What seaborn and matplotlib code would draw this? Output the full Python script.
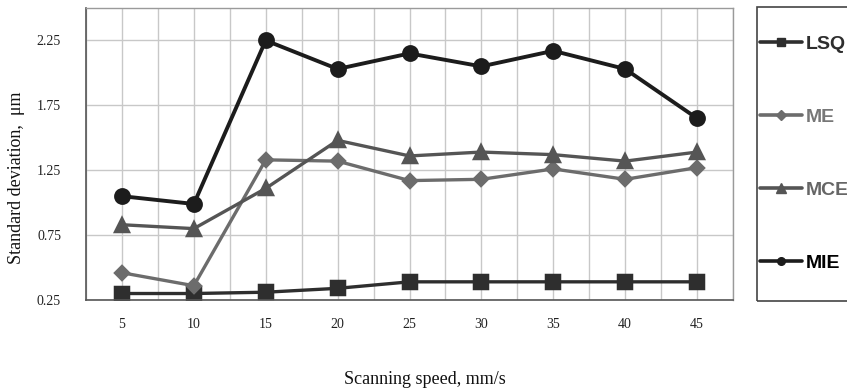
import matplotlib
matplotlib.use("Agg")
import matplotlib.pyplot as plt
import matplotlib.patches as mpatches
from matplotlib.lines import Line2D
from matplotlib.ticker import FixedLocator
import seaborn as sns
import pandas as pd

speeds = ["5", "10", "15", "20", "25", "30", "35", "40", "45"]
lsq = [0.30, 0.30, 0.31, 0.34, 0.39, 0.39, 0.39, 0.39, 0.39]
me = [0.46, 0.36, 1.33, 1.32, 1.17, 1.18, 1.26, 1.18, 1.27]
mce = [0.83, 0.80, 1.11, 1.48, 1.36, 1.39, 1.37, 1.32, 1.39]
mie = [1.05, 0.99, 2.25, 2.03, 2.15, 2.05, 2.17, 2.03, 1.65]
yticks = [0.25, 0.75, 1.25, 1.75, 2.25]

series = [
    ("LSQ", lsq, "s", 10, "#2e2e2e", 2.4),
    ("ME", me, "D", 7.5, "#6c6c6c", 2.4),
    ("MCE", mce, "^", 10.5, "#555555", 2.4),
    ("MIE", mie, "o", 10, "#1c1c1c", 2.8),
]
legend_colors = {"LSQ": "#2e2e2e", "ME": "#777777", "MCE": "#666666", "MIE": "#000000"}
legend_msize = {"LSQ": 6, "ME": 5, "MCE": 6.5, "MIE": 5.5}

sns.set_style("white")
plt.rcParams["font.family"] = ["Liberation Serif", "DejaVu Serif"]

fig = plt.figure(figsize=(8.47, 3.90), dpi=100)
ax = fig.add_axes([86/847, 1-300/390, (733-86)/847, (300-8)/390])

for name, vals, mk, ms, col, lw in series:
    df = pd.DataFrame({"speed": speeds, "value": vals})
    sns.pointplot(data=df, x="speed", y="value", order=speeds, color=col,
                  marker=mk, markersize=ms, linewidth=lw, errorbar=None, ax=ax,
                  markeredgecolor=col)

ax.set_xlim(-0.5, 8.5)
ax.set_ylim(0.25, 2.5)
ax.yaxis.set_major_locator(FixedLocator(yticks))
ax.set_yticklabels([f"{t:.2f}" for t in yticks])
ax.xaxis.set_minor_locator(FixedLocator([i + 0.5 for i in range(-1, 9)]))
ax.grid(True, which="major", axis="both", color="#c8c8c8", lw=1)
ax.grid(True, which="minor", axis="x", color="#c8c8c8", lw=1)
ax.set_axisbelow(True)
ax.tick_params(axis="both", which="both", length=0, labelsize=10, colors="#222222")
ax.tick_params(axis="y", pad=18)
ax.tick_params(axis="x", pad=13)
for s in ["left", "bottom"]:
    ax.spines[s].set_color("#555555")
    ax.spines[s].set_linewidth(1.2)
for s in ["top", "right"]:
    ax.spines[s].set_color("#9a9a9a")
    ax.spines[s].set_linewidth(1)

ax.set_xlabel("")
ax.set_ylabel("Standard deviation,  μm", fontsize=13, color="#111111")
ax.yaxis.set_label_coords(-0.094, 0.42)
fig.text(425/847, 1-380/390, "Scanning speed, mm/s", fontsize=13, ha="center",
         va="center", color="#111111")

# legend box
fig.add_artist(mpatches.Rectangle((757/847, 1-301/390), 0.2, 294/390,
                                  transform=fig.transFigure, fill=False,
                                  edgecolor="#444444", lw=1.2, clip_on=False))
handles = [Line2D([], [], color=col, lw=2.6, marker=mk, markersize=legend_msize[name],
                  markeredgecolor=col) for name, vals, mk, ms, col, lw in series]
labels = [s[0] for s in series]
leg = fig.legend(handles, labels, loc="upper left",
                 bbox_to_anchor=(760/847, 1-35/390), frameon=False, borderpad=0,
                 borderaxespad=0, labelspacing=2.85, handlelength=2.16,
                 handletextpad=0.2,
                 prop={"family": "Liberation Sans", "weight": "bold", "size": 14})
for t in leg.get_texts():
    t.set_color(legend_colors[t.get_text()])

fig.savefig("out.png", dpi=100)
